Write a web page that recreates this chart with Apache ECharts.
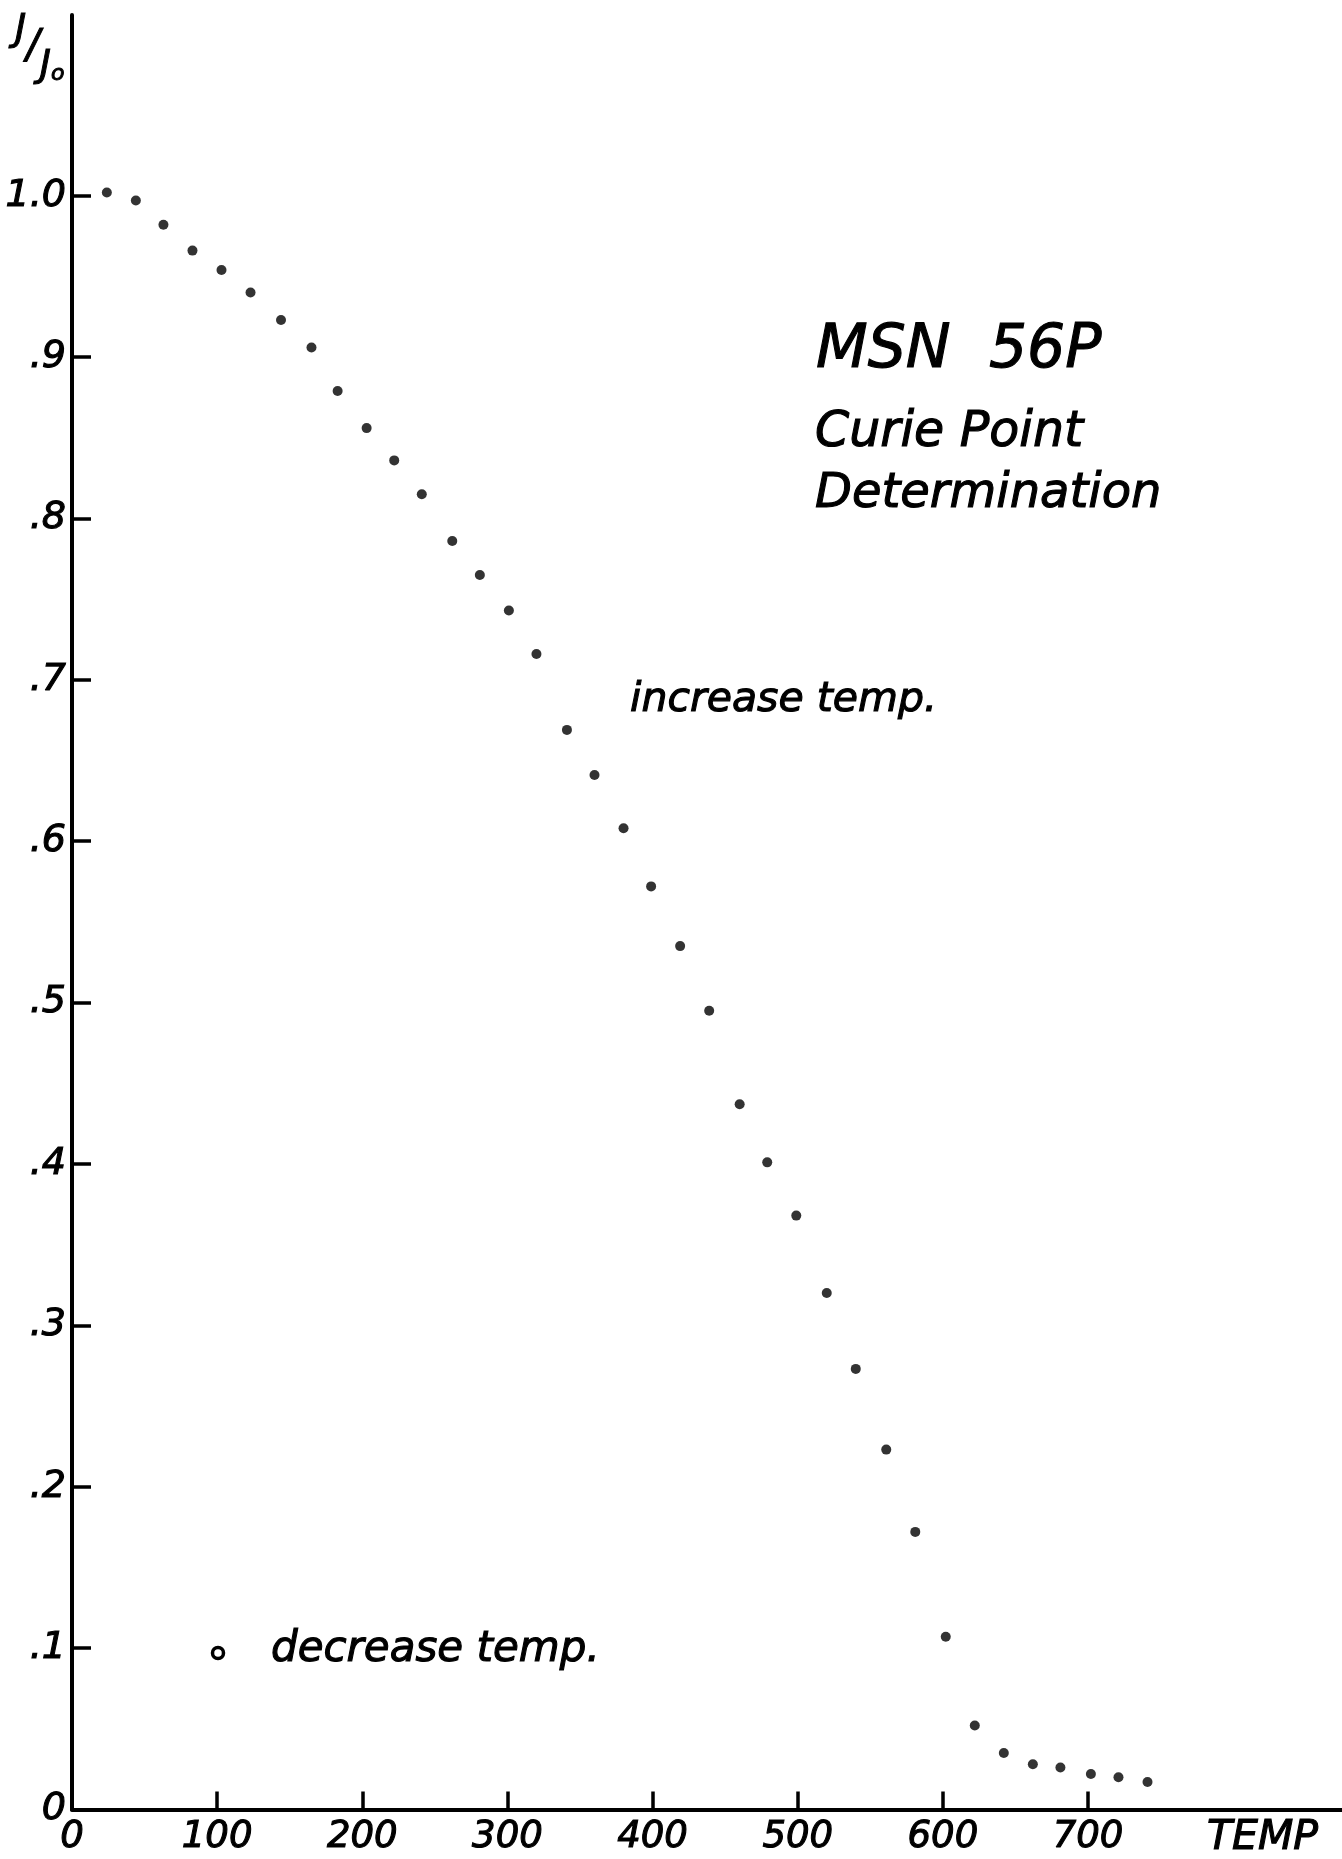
<!DOCTYPE html>
<html>
<head>
<meta charset="utf-8">
<script src="https://cdn.jsdelivr.net/npm/echarts@6/dist/echarts.min.js"></script>
<style>
	html, body { margin: 0; padding: 0; background: #fff; }
</style>
</head>
<body>
<div id="maincurie" style="width:1342px;height:1859px;"></div>
<script>
	// heating run: temperature of each reading
	var tempIncrease = [24, 44, 63, 83, 103, 123, 144, 165, 183, 203, 222, 241, 262, 281, 301, 320, 341, 360, 380,
		399, 419, 439, 460, 479, 499, 520, 540, 561, 581, 602, 622, 642, 662, 681, 702, 721, 741];
	// heating run: J/J0 at each reading
	var ratioIncrease = [1.002, 0.997, 0.982, 0.966, 0.954, 0.940, 0.923, 0.906, 0.879, 0.856, 0.836, 0.815, 0.786,
		0.765, 0.743, 0.716, 0.669, 0.641, 0.608, 0.572, 0.535, 0.495, 0.437, 0.401, 0.368, 0.320, 0.273, 0.223,
		0.172, 0.107, 0.052, 0.035, 0.028, 0.026, 0.022, 0.020, 0.017];
	// cooling run (only in the key, no points drawn)
	var tempDecrease = [];
	var ratioDecrease = [];

	var xTicks = [100, 200, 300, 400, 500, 600, 700];
	var xLabels = [0, 100, 200, 300, 400, 500, 600, 700];
	var yTicks = [0.1, 0.2, 0.3, 0.4, 0.5, 0.6, 0.7, 0.8, 0.9, 1.0];
	var yLabels = [0, 0.1, 0.2, 0.3, 0.4, 0.5, 0.6, 0.7, 0.8, 0.9, 1.0];

	var font = 'DejaVu Sans';
	var ink = '#000';

	var curie = echarts.init(document.getElementById('maincurie'), null, {
		renderer: 'canvas'
	});

	function pairs(xs, ys) {
		var out = [];
		for(var i = 0; i < xs.length; i++) {
			out.push([xs[i], ys[i]]);
		}
		return out;
	}

	function yLabel(v) {
		if(v === 0) return '0';
		if(v >= 1) return '1.0';
		return '.' + Math.round(v * 10);
	}

	function italic(size) {
		return 'italic ' + size + 'px "' + font + '"';
	}

	// lettering style for free text (slightly thickened like the pen lettering)
	function letter(text, size) {
		return { text: text, font: italic(size), fill: ink, stroke: ink, lineWidth: 1.1, verticalAlign: 'middle' };
	}

	option = {
		backgroundColor: '#fff',
		animation: false,
		grid: {
			left: 72,
			right: 0,
			top: 15,
			bottom: 31
		},
		xAxis: {
			type: 'value',
			min: 0,
			max: 875,
			name: 'TEMP',
			nameLocation: 'end',
			nameGap: -135,
			nameTextStyle: {
				fontFamily: font,
				fontStyle: 'italic',
				fontSize: 41,
				color: ink,
				textBorderColor: ink,
				textBorderWidth: 1.1,
				align: 'left',
				verticalAlign: 'top',
				padding: [8, 0, 0, 0]
			},
			axisLine: { lineStyle: { color: ink, width: 4 } },
			axisTick: {
				inside: true,
				length: 18,
				customValues: xTicks,
				lineStyle: { color: ink, width: 3.5 }
			},
			axisLabel: {
				customValues: xLabels,
				margin: 9,
				fontFamily: font,
				fontStyle: 'italic',
				fontSize: 37,
				color: ink,
				textBorderColor: ink,
				textBorderWidth: 1.1
			},
			splitLine: { show: false }
		},
		yAxis: {
			type: 'value',
			min: 0,
			max: 1.112,
			axisLine: { show: true, lineStyle: { color: ink, width: 4 } },
			axisTick: {
				show: true,
				inside: true,
				length: 19,
				customValues: yTicks,
				lineStyle: { color: ink, width: 3.5 }
			},
			axisLabel: {
				customValues: yLabels,
				margin: 6,
				fontFamily: font,
				fontStyle: 'italic',
				fontSize: 38,
				color: ink,
				textBorderColor: ink,
				textBorderWidth: 1.1,
				formatter: yLabel
			},
			splitLine: { show: false }
		},
		graphic: [{
			type: 'text',
			x: 15,
			y: 11,
			style: {
				text: '{a|J}{s|/}{b|J}{o|o}',
				stroke: ink,
				lineWidth: 1,
				rich: {
					a: { font: italic(38), fill: ink, lineHeight: 74, verticalAlign: 'top' },
					s: { font: italic(40), fill: ink, lineHeight: 74, verticalAlign: 'middle' },
					b: { font: italic(38), fill: ink, lineHeight: 74, verticalAlign: 'bottom' },
					o: { font: italic(22), fill: ink, lineHeight: 74, verticalAlign: 'bottom' }
				}
			}
		}, {
			type: 'text',
			x: 816,
			y: 351,
			style: letter('MSN  56P', 60)
		}, {
			type: 'text',
			x: 815,
			y: 433,
			style: letter('Curie Point', 49)
		}, {
			type: 'text',
			x: 815,
			y: 495,
			style: letter('Determination', 48)
		}, {
			type: 'text',
			x: 630,
			y: 700,
			style: letter('increase temp.', 41)
		}, {
			// key for the cooling run
			type: 'circle',
			shape: { cx: 218, cy: 1653, r: 5.5 },
			style: { fill: '#fff', stroke: ink, lineWidth: 3.5 }
		}, {
			type: 'text',
			x: 271,
			y: 1650,
			style: letter('decrease temp.', 42)
		}],
		series: [{
			name: 'increase temp.',
			type: 'scatter',
			symbol: 'circle',
			symbolSize: 10,
			silent: true,
			itemStyle: { color: ink },
			data: pairs(tempIncrease, ratioIncrease)
		}, {
			name: 'decrease temp.',
			type: 'scatter',
			symbol: 'emptyCircle',
			symbolSize: 12,
			silent: true,
			itemStyle: { color: ink, borderColor: ink, borderWidth: 3 },
			data: pairs(tempDecrease, ratioDecrease)
		}]
	};

	curie.setOption(option);
</script>
</body>
</html>
